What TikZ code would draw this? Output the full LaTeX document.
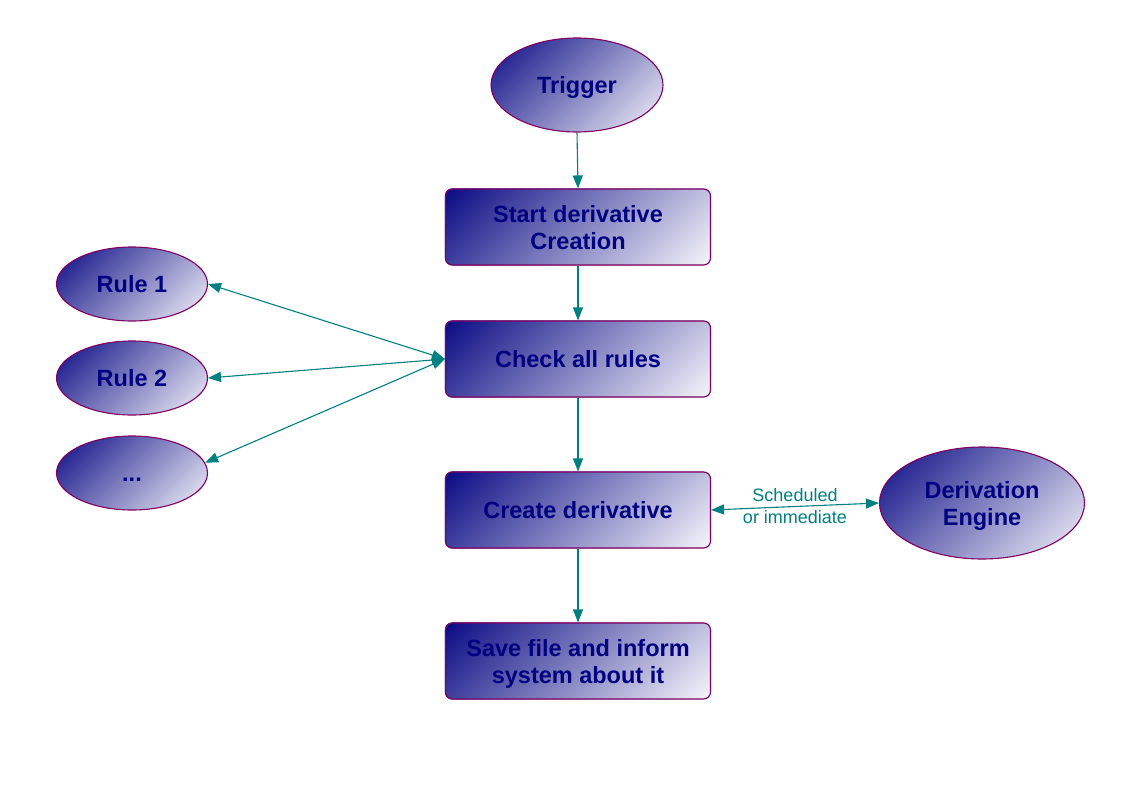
\documentclass[tikz,border=0pt]{standalone}
\usepackage{fontspec}
\setmainfont{Liberation Sans}
\usetikzlibrary{shapes.geometric,arrows.meta,backgrounds}
\definecolor{navytxt}{RGB}{0,0,128}
\definecolor{shdark}{RGB}{10,10,132}
\definecolor{shlight}{RGB}{246,246,252}
\definecolor{bordc}{RGB}{128,0,96}
\definecolor{teal}{RGB}{0,128,128}
\tikzset{
  stepbox/.style={draw=bordc, line width=1.1pt, rounded corners=7pt,
    minimum width=265pt, minimum height=76pt, inner sep=0pt, align=center,
    text depth=0pt, text=navytxt, font=\bfseries\fontsize{23.5}{27}\selectfont},
  ellnode/.style={ellipse, draw=bordc, line width=1.1pt, inner sep=0pt,
    align=center, text depth=0pt, text=navytxt, font=\bfseries\fontsize{23.5}{27}\selectfont},
  gradfill/.style={top color=shdark, bottom color=shlight},
  conn/.style={draw=teal, line width=1.1pt, -{Triangle[length=13pt,width=10pt]}},
  biconn/.style={draw=teal, line width=1.1pt, {Triangle[length=13pt,width=10pt]}-{Triangle[length=13pt,width=10pt]}},
}
\begin{document}
\begin{tikzpicture}[x=1pt,y=-1pt]
\useasboundingbox (0,0) rectangle (1123,794);
\node[ellnode, minimum width=172pt, minimum height=94pt] (trigger) at (577,85) {Trigger};
\node[stepbox] (start) at (578,227) {Start derivative\\Creation};
\node[stepbox] (check) at (578,359) {Check all rules};
\node[stepbox] (create) at (578,510) {Create derivative};
\node[stepbox] (save) at (578,661) {Save file and inform\\system about it};
\node[ellnode, minimum width=151pt, minimum height=74pt] (rule1) at (132,284) {Rule 1};
\node[ellnode, minimum width=151pt, minimum height=74pt] (rule2) at (132,378) {Rule 2};
\node[ellnode, minimum width=151pt, minimum height=74pt] (dots) at (132,473) {\vphantom{R}...};
\node[ellnode, minimum width=205pt, minimum height=112pt] (engine) at (982,503) {Derivation\\Engine};

\begin{pgfonlayer}{background}
\foreach \n in {start,check,create,save}{
  \begin{scope}
    \clip[rounded corners=7pt] (\n.south west) rectangle (\n.north east);
    \begin{scope}[transform canvas={shift={(\n.center)}, rotate=45}]
      \shade[gradfill] (-220pt,-120.6pt) rectangle (220pt,120.6pt);
    \end{scope}
  \end{scope}
}
\foreach \n/\a/\b/\d in {trigger/86pt/47pt/94.1pt, rule1/75.5pt/37pt/79.6pt,
    rule2/75.5pt/37pt/79.6pt, dots/75.5pt/37pt/79.6pt, engine/102.5pt/56pt/112.1pt}{
  \begin{scope}
    \clip (\n.center) ellipse [x radius=\a, y radius=\b];
    \begin{scope}[transform canvas={shift={(\n.center)}, rotate=45}]
      \shade[gradfill] (-200pt,-\d) rectangle (200pt,\d);
    \end{scope}
  \end{scope}
}
\end{pgfonlayer}

\draw[conn] (trigger.south) -- (start.north);
\draw[conn] (start.south) -- (check.north);
\draw[conn] (check.south) -- (create.north);
\draw[conn] (create.south) -- (save.north);
\draw[biconn] (check.west) -- (rule1.east);
\draw[biconn] (check.west) -- (rule2.east);
\draw[biconn] (check.west) -- (dots.8);
\draw[biconn] (create.east) -- node[text=teal, align=center, inner sep=0pt,
  font=\fontsize{18}{22}\selectfont] (lbl) {Scheduled\\or immediate} (engine.west);
\end{tikzpicture}
\end{document}
